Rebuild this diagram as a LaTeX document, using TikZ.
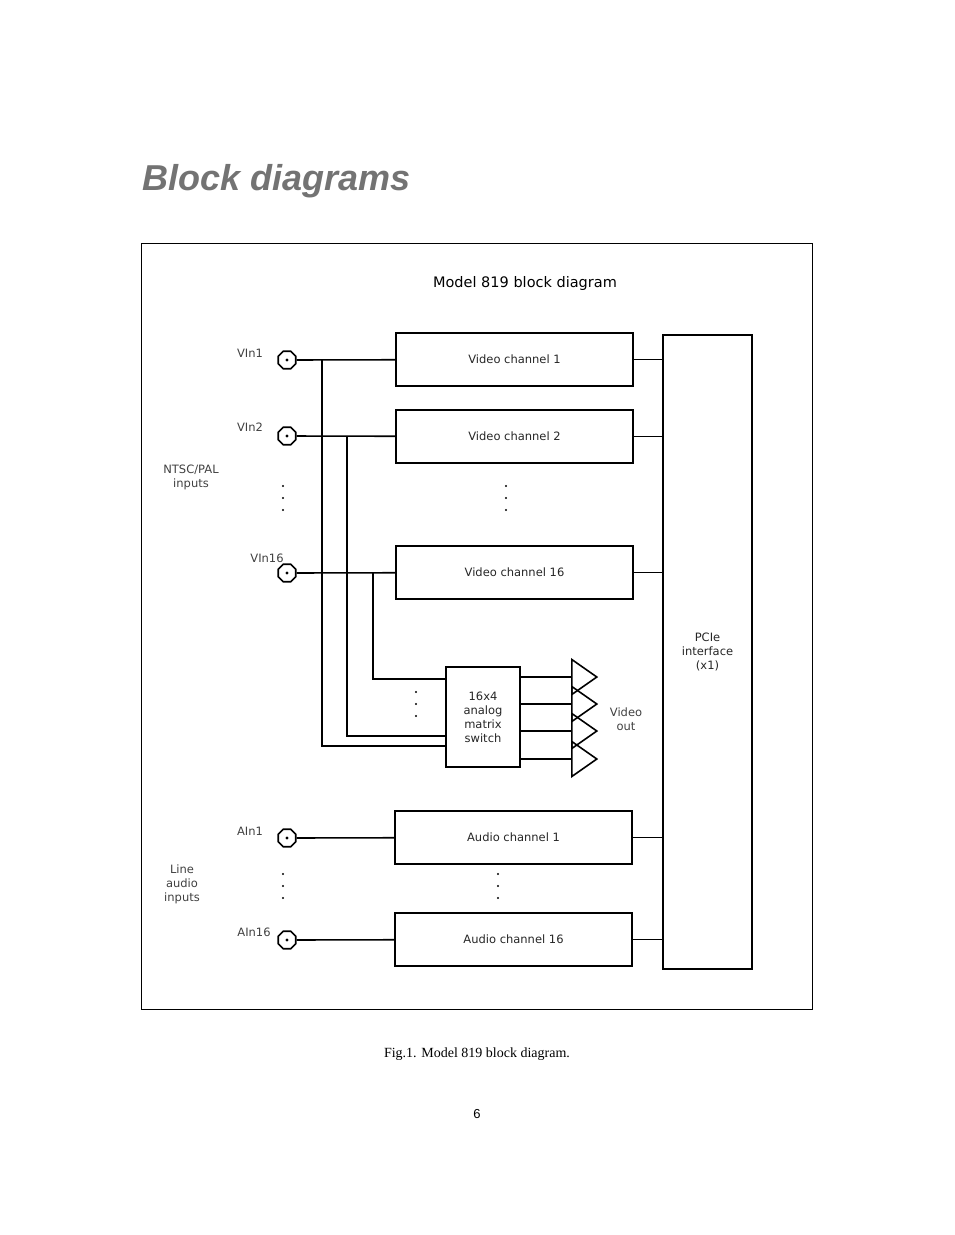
\documentclass[tikz,border=0pt]{standalone}
\usepackage{fontspec}
\setmainfont{Liberation Serif}
\newfontfamily\dejavu{DejaVu Sans}
\newfontfamily\heros{Liberation Sans}
\tikzstyle{block} = [draw, line width=1.6pt, inner sep=0pt, font=\dejavu\fontsize{11.5}{14}\selectfont, text=black!85]
\tikzstyle{jack} = [draw, line width=1.6pt, regular polygon, regular polygon sides=8, minimum size=19pt, inner sep=0pt]
\tikzstyle{lbl} = [font=\dejavu\fontsize{11.5}{14}\selectfont, text=black!75, align=center]
\tikzstyle{wire} = [line width=1.6pt]
\tikzstyle{amp} = [draw, line width=1.6pt, isosceles triangle, isosceles triangle apex angle=70, minimum height=25pt, minimum width=22pt, inner sep=0pt, anchor=west]
\usetikzlibrary{shapes.geometric}
\begin{document}
\begin{tikzpicture}[x=1pt, y=-1pt]
\useasboundingbox (0,0) rectangle (954,1235);
\node[anchor=base west, font=\heros\bfseries\itshape\fontsize{36}{40}\selectfont, text=black!55] (title) at (139,190) {Block diagrams};
\draw[line width=0.8pt] (141,243) rectangle (812,1009);
\node[font=\dejavu\fontsize{14.5}{17}\selectfont] (head) at (525,283) {Model 819 block diagram};
% video and audio channels
\node[block, minimum width=237pt, minimum height=53pt] (vc1) at (514.5,359.5) {Video channel 1};
\node[block, minimum width=237pt, minimum height=53pt] (vc2) at (514.5,436.5) {Video channel 2};
\node[block, minimum width=237pt, minimum height=53pt] (vc16) at (514.5,572.5) {Video channel 16};
\node[block, minimum width=237pt, minimum height=53pt] (ac1) at (513.5,837.5) {Audio channel 1};
\node[block, minimum width=237pt, minimum height=53pt] (ac16) at (513.5,939.5) {Audio channel 16};
\node[block, minimum width=89pt, minimum height=634pt, align=center] (pcie) at (707.5,652) {PCIe\\interface\\(x1)};
\node[block, minimum width=74pt, minimum height=100pt, align=center] (mux) at (483,717) {16x4\\analog\\matrix\\switch};
% input jacks
\foreach \n/\y in {v1/360, v2/436, v16/573, a1/838, a16/940} {
    \node[jack] (j\n) at (287,\y) {};
    \fill (j\n.center) circle (1.6pt);
}
\node[lbl] (lv1) at (250,353) {VIn1};
\node[lbl] (lv2) at (250,427) {VIn2};
\node[lbl] (lv16) at (267,558) {VIn16};
\node[lbl] (la1) at (250,831) {AIn1};
\node[lbl] (la16) at (254,932) {AIn16};
\node[lbl] (ntsc) at (191,477) {NTSC/PAL\\inputs};
\node[lbl] (line) at (182,884) {Line\\audio\\inputs};
\node[lbl] (vout) at (626,719) {Video\\out};
% wires
\draw[wire] (jv1) -- (vc1);
\draw[wire] (jv2) -- (vc2);
\draw[wire] (jv16) -- (vc16);
\draw[wire] (ja1) -- (ac1);
\draw[wire] (ja16) -- (ac16);
\foreach \b in {vc1, vc2, vc16, ac1, ac16}
    \draw[wire] (\b.east) -- (\b.east -| pcie.west);
\draw[wire] (322,360) |- (mux.west |- 0,746);
\draw[wire] (347,436) |- (mux.west |- 0,736);
\draw[wire] (373,573) |- (mux.west |- 0,679);
% video outputs
\foreach \i/\y in {1/677, 2/704, 3/731, 4/759} {
    \node[amp] (o\i) at (571,\y) {};
    \draw[wire] (mux.east |- o\i.west) -- (o\i.west);
}
% dots
\foreach \x/\y in {283/486, 506/486, 416/692, 283/874, 498/874}
    \foreach \d in {0,12,24}
        \fill (\x,\y+\d) circle (1.2pt);
\node[anchor=base] (cap) at (477,1057) {\fontsize{14}{16}\selectfont Fig.1. Model 819 block diagram.};
\node[anchor=base, font=\heros\fontsize{13}{15}\selectfont] (page) at (477,1118) {6};
\end{tikzpicture}
\end{document}
